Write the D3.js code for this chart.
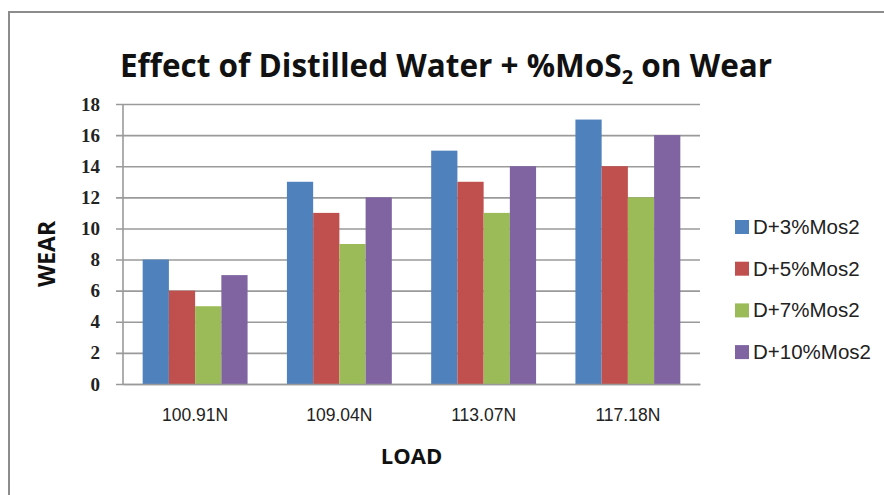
<!DOCTYPE html>
<html>
<head>
<meta charset="utf-8">
<script src="https://cdn.jsdelivr.net/npm/d3@7"></script>
<style>
  html, body { margin: 0; padding: 0; background: #fff; }
  svg { display: block; }
</style>
</head>
<body>
<svg id="chart" width="884" height="495"></svg>
<script>
// Wear measured at each load for four MoS2 concentrations in distilled water
const loads = ["100.91N", "109.04N", "113.07N", "117.18N"];
const seriesNames = ["D+3%Mos2", "D+5%Mos2", "D+7%Mos2", "D+10%Mos2"];
const wear3 = [8, 13, 15, 17];
const wear5 = [6, 11, 13, 14];
const wear7 = [5, 9, 11, 12];
const wear10 = [7, 12, 14, 16];
const yTicks = [0, 2, 4, 6, 8, 10, 12, 14, 16, 18];
const colors = ["#4F81BD", "#C0504D", "#9BBB59", "#8064A2"];

const seriesValues = [wear3, wear5, wear7, wear10];

const svg = d3.select("#chart");
const plot = { left: 123, right: 700, top: 104, bottom: 384 };

// Chart frame
svg.append("path")
  .attr("d", "M9,495 L9,12 L884,12")
  .attr("fill", "none")
  .attr("stroke", "#8c8c8c")
  .attr("stroke-width", 2);

const x = d3.scaleBand().domain(loads).range([plot.left, plot.right]).paddingInner(0).paddingOuter(0);
const xInner = d3.scaleBand().domain(seriesNames).range([0, x.bandwidth()]).paddingInner(0).paddingOuter(0.75);
const y = d3.scaleLinear().domain([0, 18]).range([plot.bottom, plot.top]);

// Horizontal gridlines with short outer ticks
const yAxis = d3.axisLeft(y).tickValues(yTicks).tickSize(plot.right - plot.left + 7).tickFormat(d => d).tickPadding(16);
const gy = svg.append("g").attr("transform", `translate(${plot.right},0)`).call(yAxis);
gy.select(".domain").remove();
gy.selectAll(".tick line").attr("stroke", "#9a9a9a").attr("stroke-width", 1.6);
gy.selectAll(".tick text")
  .attr("font-family", "'Liberation Serif', 'DejaVu Serif', serif")
  .attr("font-weight", "bold")
  .attr("font-size", 19)
  .attr("fill", "#222");

// Vertical axis line
svg.append("line")
  .attr("x1", plot.left).attr("x2", plot.left)
  .attr("y1", plot.top).attr("y2", plot.bottom)
  .attr("stroke", "#9a9a9a").attr("stroke-width", 1.6);

// Bars
const groups = svg.append("g").selectAll("g")
  .data(loads)
  .join("g")
  .attr("transform", d => `translate(${x(d)},0)`);

groups.selectAll("rect")
  .data((d, i) => seriesNames.map((s, j) => ({ series: s, value: seriesValues[j][i], color: colors[j] })))
  .join("rect")
  .attr("x", d => xInner(d.series))
  .attr("width", xInner.bandwidth())
  .attr("y", d => y(d.value))
  .attr("height", d => y(0) - y(d.value))
  .attr("fill", d => d.color);

// Category axis
const xAxis = d3.axisBottom(x).tickSize(0).tickPadding(25);
const gx = svg.append("g").attr("transform", `translate(0,${plot.bottom})`).call(xAxis);
gx.select(".domain").attr("stroke", "#9a9a9a").attr("stroke-width", 1.6);
gx.selectAll(".tick text")
  .attr("font-family", "'Liberation Sans', Arial, sans-serif")
  .attr("font-size", 17.5)
  .attr("fill", "#222");

// Title
const title = svg.append("text")
  .attr("x", 446).attr("y", 77)
  .attr("text-anchor", "middle")
  .attr("font-family", "'Open Sans', 'Noto Sans', sans-serif")
  .attr("font-weight", "bold")
  .attr("font-size", 31.5)
  .attr("fill", "#111");
title.append("tspan").text("Effect of Distilled Water + %MoS");
title.append("tspan").attr("font-size", 20).attr("dy", 7).text("2");
title.append("tspan").attr("dy", -7).text(" on Wear");

// Axis titles
svg.append("text")
  .attr("transform", "translate(55,254) rotate(-90)")
  .attr("text-anchor", "middle")
  .attr("font-family", "'Open Sans', 'Noto Sans', sans-serif")
  .attr("font-weight", "bold")
  .attr("font-size", 23)
  .attr("fill", "#111")
  .text("WEAR");

svg.append("text")
  .attr("x", (plot.left + plot.right) / 2).attr("y", 464)
  .attr("text-anchor", "middle")
  .attr("font-family", "'Open Sans', 'Noto Sans', sans-serif")
  .attr("font-weight", "bold")
  .attr("font-size", 22)
  .attr("fill", "#111")
  .text("LOAD");

// Legend
const legend = svg.append("g").selectAll("g")
  .data(seriesNames)
  .join("g")
  .attr("transform", (d, i) => `translate(735,${227 + i * 41.7})`);
legend.append("rect")
  .attr("x", 0).attr("y", -7).attr("width", 14).attr("height", 14)
  .attr("fill", (d, i) => colors[i]);
legend.append("text")
  .attr("x", 18).attr("y", 7)
  .attr("font-family", "'Liberation Sans', Arial, sans-serif")
  .attr("font-size", 20.5)
  .attr("fill", "#222")
  .text(d => d);
</script>
</body>
</html>
